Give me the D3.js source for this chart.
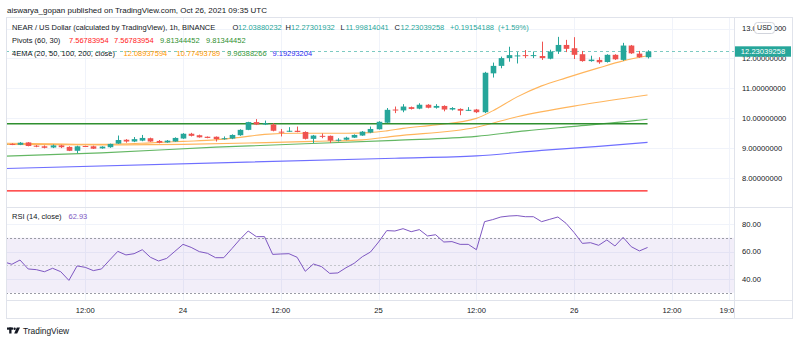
<!DOCTYPE html>
<html>
<head>
<meta charset="utf-8">
<script src="https://cdn.jsdelivr.net/npm/d3@7"></script>
<style>
  body { margin: 0; background: #fff; }
  svg { display: block; font-family: "Liberation Sans", Arial, sans-serif; }
</style>
</head>
<body>
<svg id="chart" width="800" height="343"></svg>
<script>
// hourly NEAR/USD candles, Oct 23 02:00 -> Oct 26 09:00 UTC
const candleOpen = [
  9.12, 9.14, 9.11, 9.19, 9.08, 9.06, 9.02, 9.09, 9.04, 8.91,
  9.07, 9.06, 8.99, 9.03, 9.15, 9.28, 9.22, 9.25, 9.33, 9.24,
  9.19, 9.22, 9.32, 9.48, 9.43, 9.38, 9.38, 9.31, 9.32, 9.43,
  9.61, 9.87, 9.79, 9.79, 9.55, 9.55, 9.58, 9.54, 9.31, 9.41,
  9.41, 9.26, 9.28, 9.35, 9.42, 9.52, 9.63, 9.85, 10.29, 10.26,
  10.37, 10.32, 10.45, 10.35, 10.41, 10.29, 10.31, 10.27, 10.29, 10.20,
  11.50, 11.75, 12.01, 12.08, 12.11, 12.09, 12.08, 11.99, 12.23, 12.45,
  12.34, 12.14, 11.91, 11.95, 11.88, 12.12, 11.95, 12.43, 12.16, 12.03880232
];
const candleHigh = [
  9.16, 9.16, 9.20, 9.20, 9.10, 9.09, 9.12, 9.11, 9.06, 9.08,
  9.08, 9.08, 9.06, 9.15, 9.42, 9.30, 9.37, 9.44, 9.35, 9.27,
  9.27, 9.36, 9.50, 9.51, 9.45, 9.39, 9.39, 9.39, 9.46, 9.63,
  9.88, 9.97, 9.92, 9.83, 9.64, 9.70, 9.72, 9.56, 9.44, 9.49,
  9.42, 9.33, 9.38, 9.46, 9.57, 9.72, 9.90, 10.34, 10.39, 10.47,
  10.39, 10.50, 10.47, 10.47, 10.43, 10.37, 10.33, 10.37, 10.31, 11.55,
  11.86, 12.06, 12.39, 12.21, 12.28, 12.23, 12.56, 12.29, 12.72, 12.62,
  12.71, 12.25, 12.09, 12.04, 12.14, 12.14, 12.52, 12.45, 12.25, 12.27301932
];
const candleLow = [
  9.10, 9.10, 9.10, 9.06, 9.03, 8.99, 9.00, 9.00, 8.90, 8.83,
  9.04, 8.97, 8.98, 9.01, 9.14, 9.18, 9.20, 9.23, 9.21, 9.16,
  9.18, 9.21, 9.31, 9.39, 9.35, 9.33, 9.22, 9.28, 9.30, 9.41,
  9.60, 9.77, 9.77, 9.56, 9.39, 9.54, 9.53, 9.29, 9.17, 9.33,
  9.17, 9.22, 9.26, 9.34, 9.41, 9.50, 9.62, 9.84, 10.17, 10.20,
  10.29, 10.30, 10.33, 10.32, 10.23, 10.26, 10.10, 10.24, 10.17, 10.17,
  11.36, 11.67, 11.89, 11.83, 12.01, 12.01, 11.95, 11.97, 12.15, 12.21,
  11.98, 11.89, 11.89, 11.82, 11.86, 11.95, 11.92, 12.15, 12.02, 11.99814041
];
const candleClose = [
  9.14, 9.12, 9.18, 9.07, 9.05, 9.01, 9.09, 9.03, 8.91, 9.06,
  9.05, 8.98, 9.05, 9.14, 9.27, 9.22, 9.30, 9.34, 9.22, 9.18,
  9.25, 9.34, 9.48, 9.41, 9.36, 9.34, 9.30, 9.33, 9.44, 9.61,
  9.87, 9.79, 9.83, 9.58, 9.53, 9.58, 9.54, 9.31, 9.42, 9.39,
  9.25, 9.28, 9.35, 9.44, 9.55, 9.64, 9.88, 10.28, 10.27, 10.39,
  10.31, 10.45, 10.35, 10.41, 10.29, 10.34, 10.25, 10.28, 10.20, 11.52,
  11.75, 12.01, 12.11, 12.10, 12.09, 12.11, 12.01, 12.23, 12.45, 12.32,
  12.12, 11.91, 11.96, 11.87, 12.12, 11.97, 12.43, 12.17, 12.04, 12.23039258
];
const rsiValues = [
  52.5, 50.7, 53.8, 47.3, 46.8, 45.3, 47.8, 45.3, 39.0, 49.5,
  48.5, 46.1, 47.3, 53.8, 60.1, 57.5, 58.4, 61.3, 55.8, 53.1,
  55.0, 60.1, 65.2, 63.0, 59.9, 58.7, 55.5, 55.5, 62.1, 68.9,
  74.9, 70.8, 70.8, 57.9, 58.2, 58.4, 55.8, 45.6, 50.9, 49.0,
  44.1, 44.4, 48.2, 51.4, 56.2, 59.6, 66.9, 75.2, 74.9, 76.6,
  74.4, 75.9, 71.3, 72.2, 66.9, 67.2, 65.2, 65.2, 61.3, 81.7,
  83.2, 85.1, 85.8, 86.1, 85.3, 85.3, 81.7, 83.4, 85.1, 80.5,
  73.7, 65.9, 66.4, 64.5, 68.4, 64.0, 70.3, 63.5, 60.4, 62.93
];

// EMA readings: candle index -> value
const ema20Idx = [0, 6, 12, 18, 22, 26, 29, 32, 36, 42, 45, 47, 49, 53, 58, 60, 63, 66, 69, 73, 76, 79];
const ema20Val = [9.165, 9.142, 9.125, 9.175, 9.225, 9.275, 9.359, 9.459, 9.499, 9.499, 9.519, 9.576, 9.660, 9.777, 9.994, 10.245, 10.713, 11.081, 11.349, 11.683, 11.917, 12.08937594];
const ema50Idx = [0, 12, 22, 31, 38, 44, 48, 58, 63, 71, 79];
const ema50Val = [9.125, 9.108, 9.125, 9.175, 9.225, 9.275, 9.40, 9.70, 10.05, 10.45, 10.77493789];
const ema100Idx = [0, 12, 26, 48, 58, 64, 70, 76, 79];
const ema100Val = [8.730, 8.841, 9.031, 9.259, 9.392, 9.576, 9.727, 9.877, 9.96388266];
const ema200Idx = [0, 48, 58, 66, 73, 79];
const ema200Val = [8.316, 8.663, 8.740, 8.924, 9.058, 9.19293204];

const pivotLow = 7.56783954;
const pivotHigh = 9.81344452;

const priceTicks = [8, 9, 10, 11, 12, 13];
const rsiTicks = [40, 60, 80];
const timeTicks = [
  Date.UTC(2021, 9, 23, 12), Date.UTC(2021, 9, 24), Date.UTC(2021, 9, 24, 12),
  Date.UTC(2021, 9, 25), Date.UTC(2021, 9, 25, 12), Date.UTC(2021, 9, 26),
  Date.UTC(2021, 9, 26, 12), Date.UTC(2021, 9, 26, 19)
].map(t => new Date(t));

const hours = d3.utcHour.range(new Date(Date.UTC(2021, 9, 23, 2)), new Date(Date.UTC(2021, 9, 26, 10)));
const candles = hours.map((t, i) => ({
  t, o: candleOpen[i], h: candleHigh[i], l: candleLow[i], c: candleClose[i]
}));
const lastClose = candleClose[candleClose.length - 1];

const up = "#26a69a", down = "#ef5350", ink = "#131722", gridC = "#f0f3fa", borderC = "#e0e3eb";

const box = { left: 6, right: 793, top: 17, bottom: 319 };
const axisX = 734, paneSplit = 207, timeTop = 300;

const x = d3.scaleUtc()
  .domain([new Date(Date.UTC(2021, 9, 24)), new Date(Date.UTC(2021, 9, 26, 12))])
  .range([183, 672]);
const y = d3.scaleLinear().domain([8, 13]).range([178, 28.5]);
const yRsi = d3.scaleLinear().domain([40, 80]).range([279, 224]);

const svg = d3.select("#chart");
const defs = svg.append("defs");
defs.append("clipPath").attr("id", "priceClip")
  .append("rect").attr("x", box.left).attr("y", box.top).attr("width", axisX - box.left).attr("height", paneSplit - box.top);
defs.append("clipPath").attr("id", "rsiClip")
  .append("rect").attr("x", box.left).attr("y", paneSplit).attr("width", axisX - box.left).attr("height", timeTop - paneSplit);
defs.append("clipPath").attr("id", "timeClip")
  .append("rect").attr("x", box.left).attr("y", timeTop).attr("width", axisX - box.left).attr("height", box.bottom - timeTop);

// header
svg.append("text").attr("x", 7).attr("y", 12.8)
  .attr("font-size", 8).attr("fill", ink)
  .text("aiswarya_gopan published on TradingView.com, Oct 26, 2021 09:35 UTC");

// grid
const grid = svg.append("g").attr("stroke", gridC).attr("stroke-width", 1);
grid.selectAll(".vg").data(timeTicks).join("line")
  .attr("x1", d => Math.round(x(d)) + 0.5).attr("x2", d => Math.round(x(d)) + 0.5)
  .attr("y1", box.top).attr("y2", timeTop);
grid.selectAll(".hg").data(priceTicks).join("line")
  .attr("x1", box.left).attr("x2", axisX)
  .attr("y1", d => Math.round(y(d)) + 0.5).attr("y2", d => Math.round(y(d)) + 0.5);
grid.selectAll(".rg").data(rsiTicks).join("line")
  .attr("x1", box.left).attr("x2", axisX)
  .attr("y1", d => Math.round(yRsi(d)) + 0.5).attr("y2", d => Math.round(yRsi(d)) + 0.5);

// price pane
const price = svg.append("g").attr("clip-path", "url(#priceClip)");

price.append("line")
  .attr("x1", box.left).attr("x2", axisX)
  .attr("y1", y(lastClose)).attr("y2", y(lastClose))
  .attr("stroke", up).attr("stroke-opacity", 0.6).attr("stroke-dasharray", "3,3");

const emaLine = d3.line().curve(d3.curveMonotoneX)
  .x(d => x(hours[d[0]])).y(d => y(d[1]));
const emas = [
  { idx: ema200Idx, val: ema200Val, color: "#6f6fff" },
  { idx: ema100Idx, val: ema100Val, color: "#64b764" },
  { idx: ema50Idx, val: ema50Val, color: "#ffb55c" },
  { idx: ema20Idx, val: ema20Val, color: "#ffb55c" }
];
emas.forEach(e => {
  price.append("path")
    .datum(e.idx.map((k, i) => [k, e.val[i]]))
    .attr("d", emaLine)
    .attr("fill", "none").attr("stroke", e.color).attr("stroke-width", 1.1);
});

[{ v: pivotHigh, color: "#2f8f2f" }, { v: pivotLow, color: "#ff1a1a" }].forEach(p => {
  price.append("line")
    .attr("x1", box.left).attr("x2", x(hours[hours.length - 1]))
    .attr("y1", y(p.v)).attr("y2", y(p.v))
    .attr("stroke", p.color).attr("stroke-width", 1.4);
});

const bodyW = 5.6;
const candleG = price.selectAll(".candle").data(candles).join("g")
  .attr("fill", d => d.c >= d.o ? up : down)
  .attr("stroke", d => d.c >= d.o ? up : down);
candleG.append("line")
  .attr("x1", d => Math.round(x(d.t)) + 0.5).attr("x2", d => Math.round(x(d.t)) + 0.5)
  .attr("y1", d => y(d.h)).attr("y2", d => y(d.l))
  .attr("stroke-width", 1);
candleG.append("rect")
  .attr("stroke", "none")
  .attr("x", d => Math.round(x(d.t)) + 0.5 - bodyW / 2)
  .attr("width", bodyW)
  .attr("y", d => y(Math.max(d.o, d.c)))
  .attr("height", d => Math.max(1, Math.abs(y(d.o) - y(d.c))));

// legend rows: [text, colour, x]
function legendRow(yPos, parts, size) {
  const g = svg.append("g").attr("font-size", size);
  parts.forEach(p => {
    g.append("text").attr("x", p[2]).attr("y", yPos).attr("fill", p[1]).text(p[0]);
  });
}
legendRow(30, [
  ["NEAR / US Dollar (calculated by TradingView), 1h, BINANCE", ink, 12],
  ["O", ink, 232.5], ["12.03880232", up, 238],
  ["H", ink, 285.5], ["12.27301932", up, 291],
  ["L", ink, 340.5], ["11.99814041", up, 345.5],
  ["C", ink, 394.5], ["12.23039258", up, 400.5],
  ["+0.19154188", up, 450], ["(+1.59%)", up, 498]
], 7.5);
legendRow(43.2, [
  ["Pivots (60, 30)", ink, 12],
  ["7.56783954", "#ff1a1a", 69], ["7.56783954", "#ff1a1a", 114],
  ["9.81344452", "#2f8f2f", 160], ["9.81344452", "#2f8f2f", 206]
], 7.5);
legendRow(55.5, [
  ["4EMA (20, 50, 100, 200, close)", ink, 12],
  ["12.08937594", "#ff9800", 123.5], ["10.77493789", "#ff9800", 176.5],
  ["9.96388266", "#3d9a3d", 227], ["9.19293204", "#2b2bf0", 272.5]
], 7.5);

// RSI pane
const rsi = svg.append("g").attr("clip-path", "url(#rsiClip)");
rsi.append("rect")
  .attr("x", box.left).attr("width", axisX - box.left)
  .attr("y", yRsi(70)).attr("height", yRsi(30) - yRsi(70))
  .attr("fill", "#7e57c2").attr("fill-opacity", 0.1);
[{ v: 70, c: "#9a9ca5" }, { v: 50, c: "#c4c6cc" }, { v: 30, c: "#9a9ca5" }].forEach(b => {
  rsi.append("line")
    .attr("x1", box.left).attr("x2", axisX)
    .attr("y1", Math.round(yRsi(b.v)) + 0.5).attr("y2", Math.round(yRsi(b.v)) + 0.5)
    .attr("stroke", b.c).attr("stroke-dasharray", "2,2");
});
rsi.append("path")
  .datum(rsiValues)
  .attr("d", d3.line().x((d, i) => x(hours[i])).y(d => yRsi(d)))
  .attr("fill", "none").attr("stroke", "#7e57c2").attr("stroke-width", 1);

legendRow(219.3, [["RSI (14, close)", ink, 12], ["62.93", "#7e57c2", 68.5]], 7.5);

// frame and separators
const frame = svg.append("g").attr("stroke", borderC).attr("fill", "none");
frame.append("rect").attr("x", box.left + 0.5).attr("y", box.top + 0.5)
  .attr("width", box.right - box.left - 1).attr("height", box.bottom - box.top - 1);
frame.append("line").attr("x1", axisX + 0.5).attr("x2", axisX + 0.5).attr("y1", box.top).attr("y2", box.bottom);
frame.append("line").attr("x1", box.left).attr("x2", box.right).attr("y1", paneSplit + 0.5).attr("y2", paneSplit + 0.5);
frame.append("line").attr("x1", box.left).attr("x2", box.right).attr("y1", timeTop + 0.5).attr("y2", timeTop + 0.5);

// price axis
const fmt8 = d3.format(".8f");
svg.append("g").selectAll("text").data(priceTicks).join("text")
  .attr("x", 742).attr("y", d => y(d)).attr("dy", "0.35em")
  .attr("font-size", 7.6).attr("fill", ink)
  .text(d => fmt8(d));
svg.append("g").selectAll("text").data(rsiTicks).join("text")
  .attr("x", 742).attr("y", d => yRsi(d)).attr("dy", "0.35em")
  .attr("font-size", 7.6).attr("fill", ink)
  .text(d => d3.format(".2f")(d));

svg.append("rect").attr("x", 754.5).attr("y", 22.5).attr("width", 20).attr("height", 11).attr("rx", 3)
  .attr("fill", "#fff").attr("stroke", "#d1d4dc");
svg.append("text").attr("x", 764.5).attr("y", 28).attr("dy", "0.35em").attr("text-anchor", "middle")
  .attr("font-size", 7).attr("fill", ink).text("USD");

svg.append("rect").attr("x", 735).attr("y", y(lastClose) - 5.2).attr("width", 56).attr("height", 10.4)
  .attr("fill", up);
svg.append("text").attr("x", 763).attr("y", y(lastClose)).attr("dy", "0.35em").attr("text-anchor", "middle")
  .attr("font-size", 7.6).attr("fill", "#fff").text(fmt8(lastClose));

// time axis
const timeFmt = d => d.getUTCHours() === 0 ? d3.utcFormat("%-d")(d) : d3.utcFormat("%H:%M")(d);
svg.append("g").attr("clip-path", "url(#timeClip)")
  .selectAll("text").data(timeTicks).join("text")
  .attr("x", d => x(d)).attr("y", 310).attr("dy", "0.35em").attr("text-anchor", "middle")
  .attr("font-size", 7.6).attr("fill", ink)
  .text(timeFmt);

// footer logo
const logo = svg.append("g").attr("fill", ink);
logo.append("rect").attr("x", 7).attr("y", 327.5).attr("width", 6).attr("height", 2.2);
logo.append("rect").attr("x", 9.2).attr("y", 327.5).attr("width", 2.3).attr("height", 6);
logo.append("circle").attr("cx", 14.6).attr("cy", 328.7).attr("r", 1.2);
logo.append("path").attr("d", "M16.8,327.5 L20,327.5 L17.2,333.5 L14.2,333.5 Z");
svg.append("text").attr("x", 23).attr("y", 334).attr("font-size", 8.4).attr("fill", ink).text("TradingView");
</script>
</body>
</html>
